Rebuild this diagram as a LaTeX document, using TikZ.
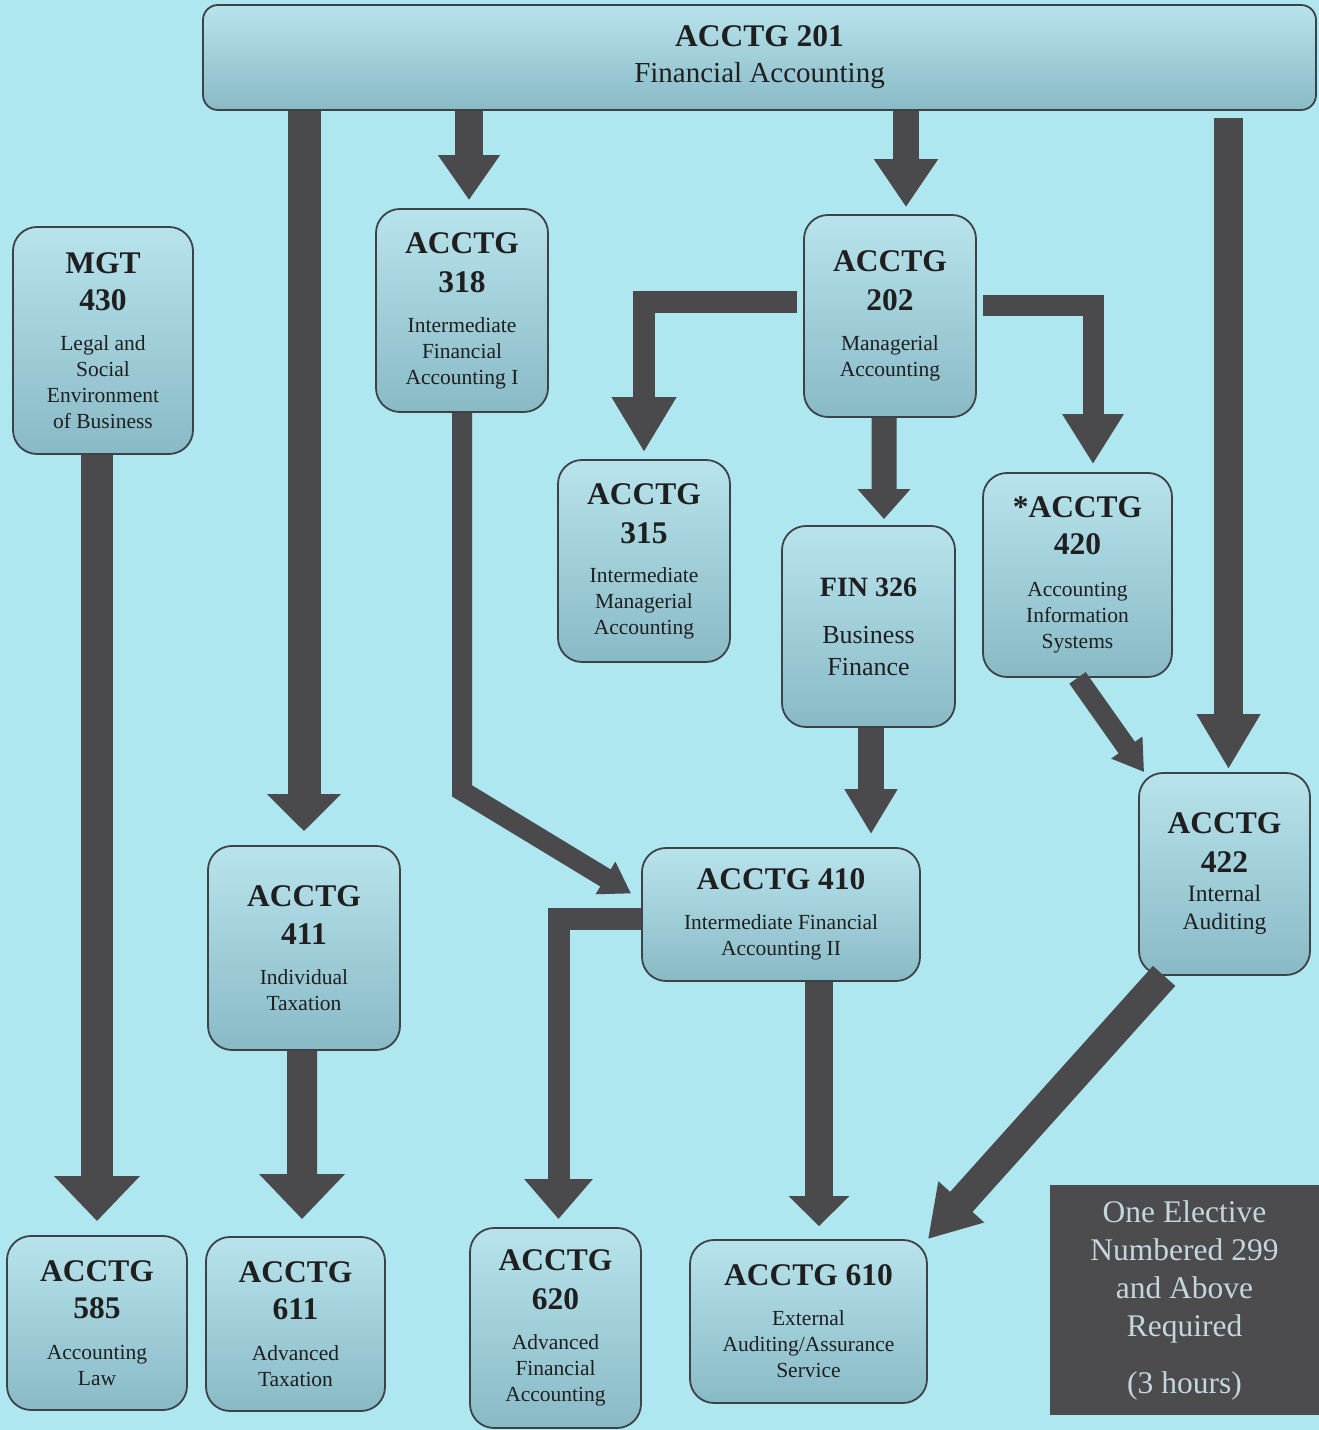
\documentclass[tikz,border=0pt]{standalone}
\usepackage{fontspec}
\setmainfont{Liberation Serif}
\usetikzlibrary{arrows.meta}
\definecolor{bgcyan}{RGB}{174,231,240}
\definecolor{boxtop}{RGB}{184,227,236}
\definecolor{boxbot}{RGB}{136,186,198}
\definecolor{boxline}{RGB}{60,66,70}
\definecolor{flowgray}{RGB}{74,74,76}
\definecolor{notegray}{RGB}{76,76,78}
\definecolor{notetext}{RGB}{196,214,222}
\newcommand{\crstitle}{\fontsize{31.5bp}{39bp}\selectfont\bfseries}
\begin{document}
\begin{tikzpicture}[>={Triangle[width=60bp,length=45bp]},line join=miter,
  course/.style={draw=boxline,line width=1.8bp,rounded corners=24bp,top color=boxtop,bottom color=boxbot,
    align=center,inner sep=0pt,text=black!88,font=\fontsize{21.5bp}{26bp}\selectfont},
  flow/.style={draw=flowgray,line width=26bp,->},
  flow wide/.style={flow,line width=32bp,-{Triangle[width=83bp,length=45bp]}},
  flow thin/.style={flow,line width=20bp,-{Triangle[width=36bp,length=30bp]}},
]
%%
\fill [bgcyan] (0bp,0bp) rectangle (1319bp,1430bp);
\useasboundingbox (0bp,0bp) rectangle (1319bp,1430bp);
%%
\node (node_201) at (759.5bp,1372.5bp) [course,rounded corners=15bp,minimum width=1113bp,minimum height=105bp,font=\fontsize{29bp}{36bp}\selectfont] {{\crstitle ACCTG 201}\\Financial Accounting};
  \node (node_430) at (103bp,1089.5bp) [course,minimum width=180bp,minimum height=227bp] {{\crstitle MGT}\\[11bp]{\crstitle 430}\\[14bp]Legal and\\Social\\Environment\\of Business};
  \node (node_318) at (462bp,1119.5bp) [course,minimum width=172bp,minimum height=203bp] {{\crstitle ACCTG}\\[13bp]{\crstitle 318}\\[14bp]Intermediate\\Financial\\Accounting I};
  \node (node_202) at (890bp,1114bp) [course,minimum width=172bp,minimum height=202bp] {{\crstitle ACCTG}\\[13bp]{\crstitle 202}\\[14bp]Managerial\\Accounting};
  \node (node_315) at (644bp,869bp) [course,minimum width=172bp,minimum height=202bp] {{\crstitle ACCTG}\\[13bp]{\crstitle 315}\\[13bp]Intermediate\\Managerial\\Accounting};
  \node (node_326) at (868.5bp,803.5bp) [course,minimum width=173bp,minimum height=201bp,font=\fontsize{26bp}{32bp}\selectfont] {{\bfseries\fontsize{28bp}{32bp}\selectfont FIN 326}\\[15bp]Business\\Finance};
  \node (node_420) at (1077.5bp,855bp) [course,minimum width=189bp,minimum height=204bp] {{\crstitle *ACCTG}\\[11bp]{\crstitle 420}\\[16bp]Accounting\\Information\\Systems};
  \node (node_422) at (1224.5bp,556bp) [course,minimum width=171bp,minimum height=202bp,font=\fontsize{23.5bp}{28bp}\selectfont] {{\crstitle ACCTG}\\[11bp]{\crstitle 422}\\[1bp]Internal\\Auditing};
  \node (node_411) at (304bp,482bp) [course,minimum width=192bp,minimum height=204bp] {{\crstitle ACCTG}\\[12bp]{\crstitle 411}\\[14bp]Individual\\Taxation};
  \node (node_410) at (781bp,515.5bp) [course,minimum width=278bp,minimum height=133bp] {{\crstitle ACCTG 410}\\[14bp]Intermediate Financial\\Accounting II};
  \node (node_585) at (97bp,107bp) [course,minimum width=180bp,minimum height=174bp] {{\crstitle ACCTG}\\[11bp]{\crstitle 585}\\[15bp]Accounting\\Law};
  \node (node_611) at (295.5bp,106bp) [course,minimum width=179bp,minimum height=174bp] {{\crstitle ACCTG}\\[11bp]{\crstitle 611}\\[15bp]Advanced\\Taxation};
  \node (node_620) at (555.5bp,102bp) [course,minimum width=171bp,minimum height=200bp] {{\crstitle ACCTG}\\[13bp]{\crstitle 620}\\[14bp]Advanced\\Financial\\Accounting};
  \node (node_610) at (808.5bp,108.5bp) [course,minimum width=237bp,minimum height=163bp] {{\crstitle ACCTG 610}\\[14bp]External\\Auditing/Assurance\\Service};
  \node (node_elective) at (1184.5bp,130bp) [fill=notegray,minimum width=269bp,minimum height=230bp,inner sep=0pt,align=center,text=notetext,font=\fontsize{31.5bp}{38bp}\selectfont] {One Elective\\Numbered 299\\and Above\\Required\\[19bp](3 hours)};
%
  \draw [flow,line width=33bp,shorten >=14bp,-{Triangle[width=72bp,length=37bp]}] (node_201.south -| node_411.north) -- (node_411.north);
  \draw [flow,line width=28bp,shorten >=8bp,-{Triangle[width=59bp,length=45bp]}] ([xshift=7bp]node_201.south -| node_318.north) -- ([xshift=7bp]node_318.north);
  \draw [flow,shorten >=7bp,-{Triangle[width=61bp,length=48bp]}] ([xshift=16bp]node_201.south -| node_202.north) -- ([xshift=16bp]node_202.north);
  \draw [flow,line width=29bp,shorten <=7bp,shorten >=3bp,-{Triangle[width=60bp,length=55bp]}] ([xshift=4bp]node_201.south -| node_422.north) -- ([xshift=4bp]node_422.north);
  \draw [flow wide,shorten >=14bp] (node_430.south -| node_585.north) -- (node_585.north);
  \draw [flow thin] (node_318.south) -- ++(0bp,-378bp) -- ([shift={(-10bp,21bp)}]node_410.west);
  \draw [flow,line width=22bp,shorten <=6bp,shorten >=7bp,-{Triangle[width=61bp,length=55bp]}] ([yshift=13.5bp]node_202.west) -| (node_315.north);
  \draw [flow,line width=21bp,shorten <=6bp,shorten >=8bp,-{Triangle[width=58bp,length=50bp]}] ([yshift=10bp]node_202.east) -| ([xshift=15.5bp]node_420.north);
  \draw [flow,line width=25bp,shorten >=6bp,-{Triangle[width=51bp,length=30bp]}] ([xshift=-6bp]node_202.south) -- ([xshift=15.5bp]node_326.north);
  \draw [flow,shorten >=13bp,-{Triangle[width=50bp,length=45bp]}] ([xshift=2.5bp]node_326.south) -- ([xshift=90bp]node_410.north);
  \draw [flow thin] (node_420.south) -- ([xshift=6bp]node_422.north west);
  \draw [flow,line width=30bp,-{Triangle[width=58bp,length=50bp]}] ([xshift=26bp]node_422.south west) -- (node_610.north east);
  \draw [flow wide,line width=30bp,shorten >=17bp] ([xshift=-2bp]node_411.south) -- ([xshift=6.5bp]node_611.north);
  \draw [flow,line width=22bp,shorten >=8bp,-{Triangle[width=66bp,length=40bp]}] ([yshift=-5bp]node_410.west) -| ([xshift=3bp]node_620.north);
  \draw [flow,line width=28bp,shorten >=13bp,-{Triangle[width=59bp,length=30bp]}] ([xshift=38bp]node_410.south) -- ([xshift=10.5bp]node_610.north);
%
\end{tikzpicture}
\end{document}
